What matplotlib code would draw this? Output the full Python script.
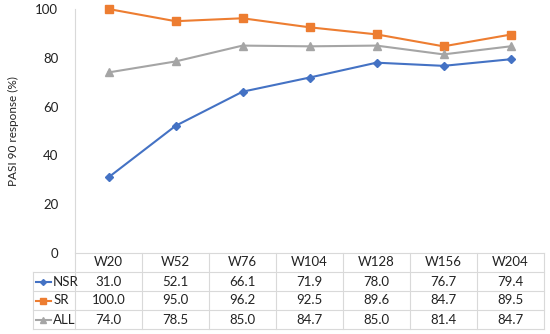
import numpy as np
import matplotlib.pyplot as plt
import matplotlib.lines as mlines

plt.rcParams['font.family'] = ['Lato', 'DejaVu Sans']

weeks = ["W20", "W52", "W76", "W104", "W128", "W156", "W204"]
series_names = ["NSR", "SR", "ALL"]
nsr = [31.0, 52.1, 66.1, 71.9, 78.0, 76.7, 79.4]
sr = [100.0, 95.0, 96.2, 92.5, 89.6, 84.7, 89.5]
all_pts = [74.0, 78.5, 85.0, 84.7, 85.0, 81.4, 84.7]

colors = ["#4472C4", "#ED7D31", "#A5A5A5"]
markers = ["D", "s", "^"]
msizes = [4, 5.5, 6]
grid_col = "#d9d9d9"

W, H = 550, 334
fig = plt.figure(figsize=(W / 100, H / 100), dpi=100)

# chart area in pixels
left, right, top, bottom = 75, 544, 9, 253
ax = fig.add_axes([left / W, 1 - bottom / H, (right - left) / W, (bottom - top) / H])
x = np.arange(len(weeks))
for vals, c, m, ms in zip([nsr, sr, all_pts], colors, markers, msizes):
    ax.plot(x, vals, color=c, marker=m, markersize=ms, linewidth=1.5, clip_on=False)
ax.set_xlim(-0.5, len(weeks) - 0.5)
ax.set_ylim(0, 100)
ax.set_yticks(range(0, 101, 20))
ax.set_xticks([])
for s in ["top", "right", "bottom"]:
    ax.spines[s].set_visible(False)
ax.spines["left"].set_color(grid_col)
ax.tick_params(axis="y", length=0, pad=12, labelsize=9.5, labelcolor="#222222")
ax.set_ylabel("PASI 90 response (%)", fontsize=8.5, labelpad=12, color="#222222")

# data table below the chart
cw = (right - left) / len(weeks)
tleft, tbottom = 33, 329
leg_w = (left - tleft) / cw
tax = fig.add_axes([tleft / W, 1 - tbottom / H, (right - tleft) / W, (tbottom - bottom) / H])
tax.set_xlim(-0.5 - leg_w, len(weeks) - 0.5)
tax.set_ylim(4, 0)
tax.axis("off")

lw = 0.8
x0, x1 = -0.5, len(weeks) - 0.5
# horizontal lines
tax.plot([x0, x1], [0, 0], color=grid_col, lw=lw, clip_on=False)
for r in range(1, 5):
    tax.plot([x0 - leg_w, x1], [r, r], color=grid_col, lw=lw, clip_on=False)
# vertical lines
tax.plot([x0 - leg_w, x0 - leg_w], [1, 4], color=grid_col, lw=lw, clip_on=False)
for i in range(len(weeks) + 1):
    tax.plot([x0 + i, x0 + i], [0, 4], color=grid_col, lw=lw, clip_on=False)

for i, wk in enumerate(weeks):
    tax.text(i, 0.5, wk, ha="center", va="center", fontsize=9.5, color="#222222")
for r, (name, vals, c, m, ms) in enumerate(zip(series_names, [nsr, sr, all_pts],
                                              colors, markers, msizes), start=1):
    kx = x0 - leg_w + 0.04
    tax.add_line(mlines.Line2D([kx, kx + 0.23], [r + 0.5, r + 0.5], color=c, lw=1.5,
                               clip_on=False))
    tax.plot([kx + 0.115], [r + 0.5], marker=m, color=c, markersize=ms - 1, clip_on=False)
    tax.text(kx + 0.26, r + 0.5, name, ha="left", va="center", fontsize=9.5, color="#222222")
    for i, v in enumerate(vals):
        tax.text(i, r + 0.5, f"{v:.1f}", ha="center", va="center", fontsize=9.5, color="#222222")

fig.savefig("out.png", dpi=100)
